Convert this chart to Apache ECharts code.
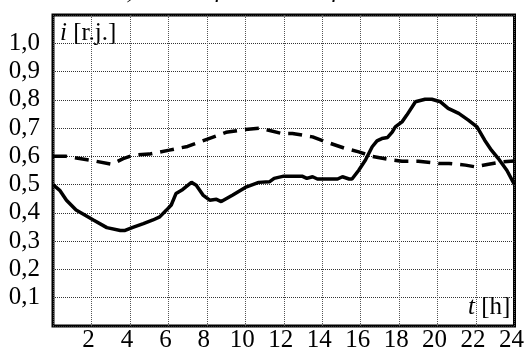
<!DOCTYPE html>
<html>
<head>
	<meta charset="utf-8">
	<title>Dnevni dijagram</title>
	<script type="text/javascript" src="https://cdn.jsdelivr.net/npm/echarts@6/dist/echarts.min.js"></script>
	<style>
		html, body { margin: 0; padding: 0; background: #fff; }
	</style>
</head>
<body>
	<div id="chart" style="width: 527px; height: 356px;"></div>
	<script type="text/javascript">
	// x ticks (hours) and y ticks
	var hourTicks = [2, 4, 6, 8, 10, 12, 14, 16, 18, 20, 22, 24];
	var valueTicks = [0.1, 0.2, 0.3, 0.4, 0.5, 0.6, 0.7, 0.8, 0.9, 1.0];

	// solid curve
	var solidT = [0, 0.35, 0.7, 1.2, 2.1, 2.8, 3.5, 3.75, 4.15, 4.7, 5.2, 5.55, 5.9, 6.15, 6.4, 6.75, 7.2, 7.45, 7.8, 8.15, 8.5, 8.75, 9.35, 10.0, 10.7, 11.25, 11.5, 12.0, 12.95, 13.2, 13.5, 13.75, 14.8, 15.05, 15.4, 15.55, 15.9, 16.25, 16.6, 16.85, 17.1, 17.4, 17.65, 17.8, 18.15, 18.4, 18.85, 19.35, 19.7, 20.15, 20.55, 21.1, 21.6, 22.05, 22.45, 22.8, 23.15, 23.6, 24];
	var solidV = [0.5, 0.48, 0.445, 0.41, 0.375, 0.348, 0.338, 0.338, 0.349, 0.362, 0.375, 0.386, 0.41, 0.428, 0.469, 0.483, 0.508, 0.498, 0.463, 0.445, 0.448, 0.44, 0.463, 0.49, 0.508, 0.51, 0.522, 0.53, 0.53, 0.522, 0.528, 0.52, 0.52, 0.528, 0.52, 0.52, 0.551, 0.587, 0.634, 0.655, 0.663, 0.667, 0.687, 0.704, 0.722, 0.746, 0.793, 0.802, 0.802, 0.793, 0.77, 0.752, 0.728, 0.704, 0.657, 0.622, 0.593, 0.551, 0.5];

	// dashed curve
	var dashT = [0, 0.7, 1.9, 3.05, 3.65, 4.15, 5.0, 6.05, 7.0, 8.0, 9.0, 10.0, 10.75, 11.9, 12.45, 13.5, 14.2, 15.2, 15.9, 16.6, 17.65, 18.15, 19.0, 20.05, 20.6, 21.45, 21.95, 22.65, 23.35, 24];
	var dashV = [0.6, 0.6, 0.587, 0.572, 0.592, 0.604, 0.608, 0.622, 0.635, 0.66, 0.685, 0.695, 0.7, 0.681, 0.681, 0.669, 0.651, 0.628, 0.616, 0.6, 0.587, 0.583, 0.583, 0.575, 0.575, 0.569, 0.563, 0.572, 0.581, 0.584];

	function pairs(xs, ys) {
		var out = [];
		for (var i = 0; i < xs.length; i++) out.push([xs[i], ys[i]]);
		return out;
	}

	var serif = '"Liberation Serif", "DejaVu Serif", serif';
	var fs = 25;
	var chart = echarts.init(document.getElementById('chart'));

	chart.setOption({
		animation: false,
		backgroundColor: '#fff',
		grid: {
			left: 53, right: 11, top: 15, bottom: 30,
			show: true,
			borderColor: '#000',
			borderWidth: 3,
			backgroundColor: 'transparent'
		},
		xAxis: {
			type: 'value',
			min: 0, max: 24, interval: 2,
			axisLine: { show: false },
			axisTick: { show: false },
			splitLine: { show: true, lineStyle: { type: 'dotted', color: '#555', width: 1 } },
			axisLabel: {
				margin: 2,
				color: '#000',
				fontFamily: serif,
				fontSize: fs,
				padding: [0, 6, 0, 0],
				showMinLabel: false,
				formatter: function (v) { return hourTicks.indexOf(v) >= 0 ? String(v) : ''; }
			}
		},
		yAxis: {
			type: 'value',
			min: 0, max: 1.1, interval: 0.1,
			axisLine: { show: false },
			axisTick: { show: false },
			splitLine: { show: true, lineStyle: { type: 'dotted', color: '#333', width: 1 } },
			axisLabel: {
				margin: 13,
				color: '#000',
				fontFamily: serif,
				fontSize: fs,
				padding: [8, 0, 0, 0],
				formatter: function (v) {
					var r = Math.round(v * 10) / 10;
					if (valueTicks.indexOf(r) < 0) return '';
					return r.toFixed(1).replace('.', ',');
				}
			}
		},
		graphic: [
			{
				type: 'text', left: 116, top: -22, silent: true,
				style: { text: 'a)       Trafostanica u fazi rada', font: 'italic ' + fs + 'px ' + serif, fill: '#000' }
			},
			{
				type: 'text', left: 60, top: 21, silent: true,
				style: {
					text: '{it|i} [r.j.]',
					font: fs + 'px ' + serif,
					fill: '#000',
					rich: { it: { fontStyle: 'italic', fontFamily: serif, fontSize: fs } }
				}
			},
			{
				type: 'text', left: 468, top: 295, silent: true,
				style: {
					text: '{it|t} [h]',
					font: fs + 'px ' + serif,
					fill: '#000',
					rich: { it: { fontStyle: 'italic', fontFamily: serif, fontSize: fs } }
				}
			}
		],
		series: [
			{
				type: 'line',
				data: pairs(dashT, dashV),
				showSymbol: false,
				lineStyle: { color: '#000', width: 3.5, type: [14, 8] },
				z: 3
			},
			{
				type: 'line',
				data: pairs(solidT, solidV),
				showSymbol: false,
				lineStyle: { color: '#000', width: 3.5 },
				z: 4
			}
		]
	});
	</script>
</body>
</html>
